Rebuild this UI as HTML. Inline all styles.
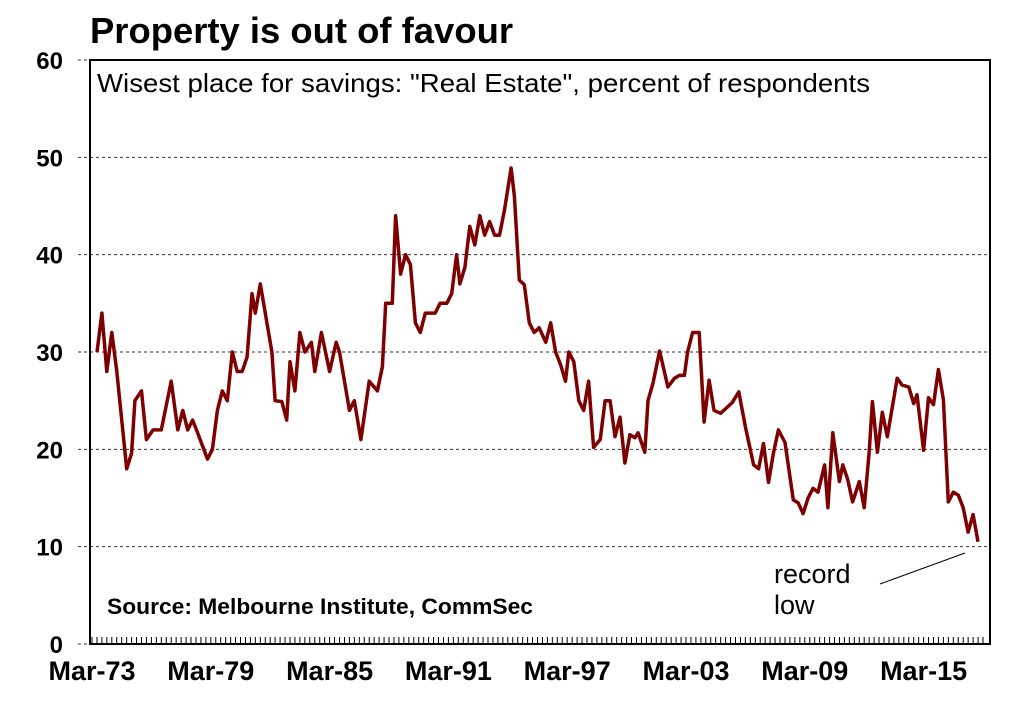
<!DOCTYPE html>
<html><head><meta charset="utf-8"><style>
html,body{margin:0;padding:0;background:#fff;}
svg{display:block;font-family:"Liberation Sans",Arial,sans-serif;}
</style></head><body>
<svg id="chart" width="1013" height="703">
<text x="90" y="43" font-size="36" font-weight="bold" fill="#000" textLength="423" lengthAdjust="spacingAndGlyphs">Property is out of favour</text>
<g id="grid"></g>
<g id="axes"></g>
<text x="97" y="92" font-size="26" fill="#000" textLength="773" lengthAdjust="spacingAndGlyphs">Wisest place for savings: "Real Estate", percent of respondents</text>
<text x="107" y="614" font-size="22" font-weight="bold" fill="#000" textLength="426" lengthAdjust="spacingAndGlyphs">Source: Melbourne Institute, CommSec</text>
<text x="774" y="583" font-size="27" fill="#000"><tspan x="774">record</tspan><tspan x="774" dy="31">low</tspan></text>
<line x1="880" y1="584" x2="965" y2="553" stroke="#000" stroke-width="1"/>
<g id="series"></g>
</svg>
<script>
const yTicks=[0,10,20,30,40,50,60];
const xTickLabels=["Mar-73","Mar-79","Mar-85","Mar-91","Mar-97","Mar-03","Mar-09","Mar-15"];
const xTickMonths=[0,72,144,216,288,360,432,504];
const months=[3,6,9,12,15,21,24,26,30,33,37,42,48,52,55,58,61,64,70,73,76,79,82,85,88,91,94,97,99,102,109,111,115,118,120,123,126,129,133,135,139,144,148,150,155,156,159,163,168,173,176,178,182,184,187,190,193,196,199,202,208,211,215,218,221,223,226,229,232,235,238,241,244,247,250,254,256,259,262,265,268,271,275,278,281,284,287,289,292,295,298,301,304,308,311,314,317,320,323,326,329,331,335,337,340,344,349,353,356,359,361,364,368,371,374,377,381,388,392,396,401,404,407,410,413,416,420,425,428,431,434,437,440,444,446,449,453,455,458,461,465,468,471,473,476,479,482,488,491,495,498,500,504,507,510,513,516,519,522,525,528,531,534,537];
const values=[30,34,28,32,28,18,19.6,25,26,21,22,22,27,22,24,22,23,21.7,19,20,24,26,25,30,28,28,29.5,36,34,37,30,25,24.9,23,29,26,32,30,31,28,32,28,31,30,25,24,25,21,27,26,28.5,35,35,44,38,40,39,33,32,34,34,35,35,36,40,37,38.7,42.9,41,44,42,43.4,42,42,44.6,48.9,46,37.4,36.9,33,32,32.5,31,33,30,28.7,27,30,29,25,24,27,20.2,21,25,25,21.3,23.3,18.6,21.5,21.2,21.7,19.7,25,26.8,30.1,26.4,27.3,27.6,27.6,30,32,32,22.8,27.1,24,23.7,24.8,25.9,22.3,18.4,18,20.6,16.6,19.6,22,20.7,14.8,14.5,13.4,15,16,15.6,18.4,14,21.7,16.7,18.4,16.9,14.6,16.7,14,19.6,24.9,19.7,23.8,21.3,27.3,26.6,26.4,24.7,25.6,19.9,25.3,24.6,28.2,25.1,14.6,15.6,15.3,14,11.5,13.3,10.5];

const NS="http://www.w3.org/2000/svg";
const L=90,R=990,T=60,B=644;
function xs(m){return 92+m*1.65;}
function ys(v){return B-(v/60)*(B-T);}
function mk(tag,attrs,parent){const e=document.createElementNS(NS,tag);for(const k in attrs)e.setAttribute(k,attrs[k]);parent.appendChild(e);return e;}
const grid=document.getElementById('grid'),axes=document.getElementById('axes'),series=document.getElementById('series');
yTicks.forEach(v=>{
  if(v>0&&v<60){
    const g=mk('line',{x1:L,x2:R,y1:ys(v),y2:ys(v),stroke:'#333','stroke-width':1,'stroke-dasharray':'3,3'},grid);
    
    
  }
  const t=mk('text',{x:63,y:ys(v)+9,'font-size':24,'font-weight':'bold','text-anchor':'end'},axes);
  t.textContent=v;
  
  
  const tk=mk('line',{x1:L-12,x2:L,y1:ys(v),y2:ys(v),stroke:'#333','stroke-width':1,'stroke-dasharray':'3,3'},axes);
  
  
});
for(let m=0;m<=540;m+=3){
  const mt=mk('line',{x1:xs(m),x2:xs(m),y1:B-7,y2:B,stroke:'#000','stroke-width':1},axes);
  
  
}
const fr=mk('rect',{x:L,y:T,width:R-L,height:B-T,fill:'none',stroke:'#000','stroke-width':2},axes);


xTickLabels.forEach((lab,i)=>{
  const t=mk('text',{x:xs(xTickMonths[i]),y:680,'font-size':27,'font-weight':'bold','text-anchor':'middle'},axes);
  t.textContent=lab;
  
  
});
const pts=months.map((m,i)=>xs(m).toFixed(1)+','+ys(values[i]).toFixed(1)).join(' ');
const pl=mk('polyline',{points:pts,fill:'none',stroke:'#7f0000','stroke-width':3.5,'stroke-linejoin':'round'},series);


</script>
</body></html>
